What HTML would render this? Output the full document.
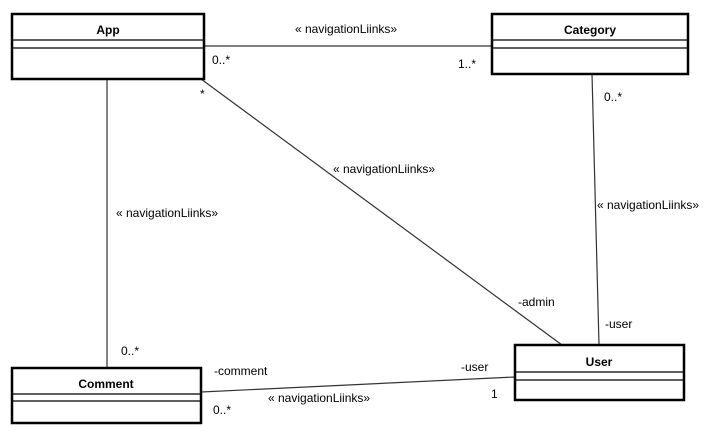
<!DOCTYPE html>
<html><head><style>
body{margin:0;background:#fff;width:710px;height:438px;overflow:hidden}
svg text{font-family:"Liberation Sans",sans-serif;font-size:12px;fill:#000}
</style></head><body>
<svg width="710" height="438" xmlns="http://www.w3.org/2000/svg">
<g stroke="#333" stroke-width="1.2" fill="none">
<line x1="204" y1="46" x2="492" y2="46"/>
<line x1="201" y1="79" x2="562" y2="345"/>
<line x1="107" y1="79" x2="107" y2="368"/>
<line x1="592" y1="74" x2="599" y2="345"/>
<line x1="201" y1="392" x2="515" y2="377"/>
</g>
<g stroke="#000" fill="#fff">
<rect x="12" y="14" width="192" height="65" stroke-width="2.5"/>
<rect x="492" y="14" width="196" height="60" stroke-width="2.5"/>
<rect x="12" y="368" width="189" height="55" stroke-width="2.5"/>
<rect x="515" y="345" width="169" height="55" stroke-width="2.5"/>
</g>
<g stroke="#000" stroke-width="1.3">
<line x1="12" y1="40" x2="204" y2="40"/><line x1="12" y1="48" x2="204" y2="48"/>
<line x1="492" y1="40" x2="688" y2="40"/><line x1="492" y1="48" x2="688" y2="48"/>
<line x1="12" y1="394" x2="201" y2="394"/><line x1="12" y1="401" x2="201" y2="401"/>
<line x1="515" y1="372" x2="684" y2="372"/><line x1="515" y1="380" x2="684" y2="380"/>
</g>
<g font-weight="bold" text-anchor="middle">
<text x="108" y="34" font-weight="bold">App</text>
<text x="590" y="34" font-weight="bold">Category</text>
<text x="106" y="388" font-weight="bold">Comment</text>
<text x="599" y="366" font-weight="bold">User</text>
</g>
<text x="295" y="33">« navigationLiinks»</text>
<text x="212" y="64">0..*</text>
<text x="458" y="68">1..*</text>
<text x="200" y="98">*</text>
<text x="333" y="173">« navigationLiinks»</text>
<text x="604" y="101">0..*</text>
<text x="597" y="209">« navigationLiinks»</text>
<text x="116" y="217">« navigationLiinks»</text>
<text x="518" y="306">-admin</text>
<text x="605" y="328">-user</text>
<text x="121" y="355">0..*</text>
<text x="214" y="375">-comment</text>
<text x="461" y="371">-user</text>
<text x="268" y="402">« navigationLiinks»</text>
<text x="491" y="398">1</text>
<text x="213" y="414">0..*</text>
</svg>
</body></html>
